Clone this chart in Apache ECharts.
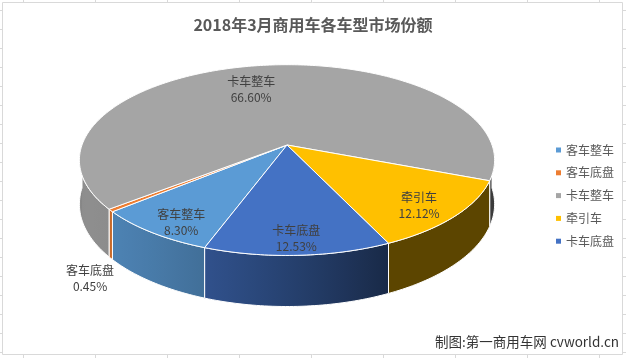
<!DOCTYPE html>
<html>
<head>
<meta charset="utf-8">
<script src="https://cdn.jsdelivr.net/npm/echarts@6/dist/echarts.min.js"></script>
<style>html,body{margin:0;padding:0;background:#fff}#c{width:626px;height:358px}</style>
</head>
<body>
<div id="c"></div>
<script>
// ---- data ----
const categories = ['客车整车', '客车底盘', '卡车整车', '牵引车', '卡车底盘'];
const shares = [8.30, 0.45, 66.60, 12.12, 12.53];
const colors = ['#5B9BD5', '#ED7D31', '#A5A5A5', '#FFC000', '#4472C4'];
const titleText = '2018年3月商用车各车型市场份额';
const footerText = '制图:第一商用车网 cvworld.cn';

// ---- layout (pixels) ----
const CX = 287, CY = 145, RA = 205, RB = 93, PERSP = 0.158, DEPTH = 43, START = 200;
// label placement: [radius fraction, dx, dy]
const labelLayout = [[0.8, -1, 9], [0.8, -59, 82], [0.8, -14, 10], [0.8, 1, 5], [0.8, 1, 8]];
const FONT = '"Noto Sans CJK SC", "Noto Sans", sans-serif';

const total = shares.reduce((a, b) => a + b, 0);
function proj(deg, r) {
  const f = deg * Math.PI / 180;
  const X = r * Math.sin(f), Z = -r * Math.cos(f);
  const k = 1 / (1 - PERSP * Z);
  return [CX + RA * X * k, CY + RB * Z * k, k];
}
function arc(s, e) {
  const n = Math.max(2, Math.ceil((e - s) / 1));
  const pts = [];
  for (let j = 0; j <= n; j++) pts.push(proj(s + (e - s) * j / n, 1));
  return pts;
}
function lightF(deg) {
  return 0.36 + 0.5 * Math.max(0, Math.cos((deg - 245) * Math.PI / 180));
}
function shade(hex, f) {
  const v = parseInt(hex.slice(1), 16);
  const r = Math.round(((v >> 16) & 255) * f), g = Math.round(((v >> 8) & 255) * f), b = Math.round((v & 255) * f);
  return 'rgb(' + r + ',' + g + ',' + b + ')';
}

function renderSlice(params, api) {
  const i = params.seriesIndex;
  let cum = 0;
  for (let j = 0; j < i; j++) cum += shares[j];
  const s = START + 360 * cum / total;
  const e = s + 360 * api.value(0) / total;
  const base = colors[i];
  const children = [];
  // side walls (front half only)
  [[90, 270], [450, 630]].forEach(iv => {
    const a = Math.max(s, iv[0]), b = Math.min(e, iv[1]);
    if (b - a <= 0.01) return;
    const top = arc(a, b);
    const bottom = top.map(p => [p[0], p[1] + DEPTH * p[2]]).reverse();
    const xs = top.map(p => p[0]);
    const xmin = Math.min.apply(null, xs), xmax = Math.max.apply(null, xs);
    const stops = [];
    const n = 8;
    for (let j = 0; j <= n; j++) {
      const d = a + (b - a) * j / n;
      const p = proj(d, 1);
      const off = xmax - xmin > 0.5 ? (p[0] - xmin) / (xmax - xmin) : j / n;
      stops.push({offset: Math.min(1, Math.max(0, off)), color: shade(base, lightF(d % 360))});
    }
    stops.sort((u, v) => u.offset - v.offset);
    children.push({
      type: 'polygon',
      shape: {points: top.map(p => [p[0], p[1]]).concat(bottom)},
      style: {fill: {type: 'linear', x: 0, y: 0, x2: 1, y2: 0, colorStops: stops}, stroke: '#ffffff', lineWidth: 1}
    });
  });
  // top face
  const c0 = proj(0, 0);
  children.push({
    type: 'polygon',
    shape: {points: [[c0[0], c0[1]]].concat(arc(s, e).map(p => [p[0], p[1]]))},
    style: {fill: base, stroke: '#ffffff', lineWidth: 1}
  });
  // label
  const lay = labelLayout[i];
  const mid = (s + e) / 2;
  const lp = proj(mid, lay[0]);
  const lx = lp[0] + lay[1], ly = lp[1] + lay[2];
  children.push({type: 'text', style: {text: categories[i], x: lx, y: ly - 8, fill: '#404040', fontSize: 12, fontFamily: FONT, align: 'center', verticalAlign: 'middle'}});
  children.push({type: 'text', style: {text: shares[i].toFixed(2) + '%', x: lx, y: ly + 8, fill: '#404040', fontSize: 12, fontFamily: FONT, align: 'center', verticalAlign: 'middle'}});
  return {type: 'group', children: children};
}

// decorative sheet border with cell ticks
const deco = [{type: 'rect', shape: {x: 2.5, y: 2.5, width: 620, height: 352}, style: {fill: 'none', stroke: '#d9d9d9', lineWidth: 1}, silent: true}];
for (let x = 23.5; x < 622; x += 72) {
  deco.push({type: 'line', shape: {x1: x, y1: 0, x2: x, y2: 2}, style: {stroke: '#d9d9d9', lineWidth: 1}, silent: true});
  deco.push({type: 'line', shape: {x1: x, y1: 355, x2: x, y2: 358}, style: {stroke: '#d9d9d9', lineWidth: 1}, silent: true});
}
for (let y = 10.5; y < 354; y += 19) {
  deco.push({type: 'line', shape: {x1: 0, y1: y, x2: 2, y2: y}, style: {stroke: '#d9d9d9', lineWidth: 1}, silent: true});
  deco.push({type: 'line', shape: {x1: 623, y1: y, x2: 626, y2: y}, style: {stroke: '#d9d9d9', lineWidth: 1}, silent: true});
}
deco.push({type: 'text', style: {text: footerText, x: 619, y: 342, fill: '#333333', fontSize: 13.5, fontFamily: FONT, align: 'right', verticalAlign: 'middle'}, silent: true});

const chart = echarts.init(document.getElementById('c'), null, {renderer: 'canvas'});
chart.setOption({
  animation: false,
  backgroundColor: '#ffffff',
  title: {text: titleText, left: 'center', top: 12, textStyle: {fontSize: 16, fontWeight: 'bold', color: '#595959', fontFamily: FONT}},
  legend: {
    data: categories, orient: 'vertical', left: 551, top: 139, itemWidth: 5, itemHeight: 5, itemGap: 10.8, icon: 'rect',
    textStyle: {fontSize: 12, color: '#595959', fontFamily: FONT}
  },
  graphic: deco,
  series: categories.map((name, i) => ({
    type: 'custom', name: name, coordinateSystem: 'none', silent: true,
    itemStyle: {color: colors[i]}, color: colors[i],
    data: [[shares[i]]],
    renderItem: renderSlice
  }))
});
</script>
</body>
</html>
